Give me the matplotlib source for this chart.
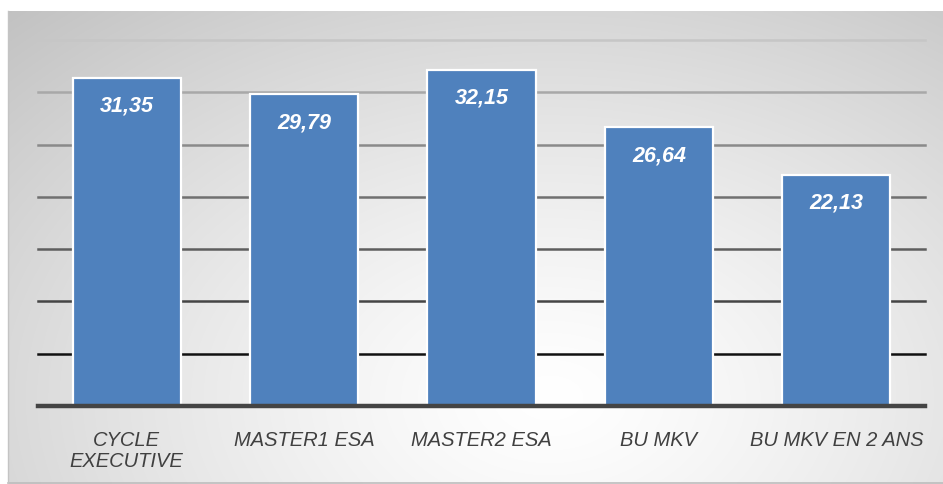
import matplotlib
matplotlib.use("Agg")
import matplotlib.pyplot as plt
import numpy as np

categories = ["CYCLE\nEXECUTIVE", "MASTER1 ESA", "MASTER2 ESA", "BU MKV", "BU MKV EN 2 ANS"]
values = [31.35, 29.79, 32.15, 26.64, 22.13]
value_labels = ["31,35", "29,79", "32,15", "26,64", "22,13"]
grid_levels = [5, 10, 15, 20, 25, 30, 35]

W, H = 943, 484
fig = plt.figure(figsize=(W / 100, H / 100), dpi=100)
fig.patch.set_facecolor("white")

# background panel with radial gradient
bx0, by0, bx1, by1 = 8, 11, 943, 484
bg = fig.add_axes([bx0 / W, 1 - by1 / H, (bx1 - bx0) / W, (by1 - by0) / H])
ny, nx = 200, 400
yy, xx = np.mgrid[0:1:ny * 1j, 0:1:nx * 1j]
cx, cy = 0.58, 0.82
d = np.sqrt(((xx - cx) / 0.75) ** 2 + ((yy - cy) / 1.0) ** 2)
d = np.clip(d / d.max(), 0, 1)
val = 1.0 - 0.24 * d ** 1.3
img = np.dstack([val, val, val])
bg.imshow(img, extent=[0, 1, 1, 0], aspect="auto", interpolation="bilinear")
bg.set_xlim(0, 1)
bg.set_ylim(1, 0)
bg.axis("off")
bg.plot([0, 1], [0.002, 0.002], color="#bdbdbd", lw=1.2, transform=bg.transAxes, clip_on=False)
bg.plot([0.0005, 0.0005], [0, 1], color="#c4c4c4", lw=1.0, transform=bg.transAxes, clip_on=False)

# main axes
left, right, top, bottom = 38, 925, 40, 406
ax = fig.add_axes([left / W, 1 - bottom / H, (right - left) / W, (bottom - top) / H])
ax.set_facecolor("none")
ax.set_xlim(-0.5, len(categories) - 0.5)
ax.set_ylim(0, 35)

grid_colors = ["#111111", "#454545", "#5e5e5e", "#707070", "#8a8a8a", "#a8a8a8", "#c6c6c6"]
for lvl, c in zip(grid_levels, grid_colors):
    ax.axhline(lvl, color=c, lw=1.8, zorder=1, clip_on=False)
ax.axhline(0, color="#444444", lw=3.2, zorder=4, clip_on=False)

x = np.arange(len(categories))
bars = ax.bar(x, values, width=0.61, color="#4f81bd", edgecolor="white", linewidth=1.6, zorder=3)

for xi, v, lab in zip(x, values, value_labels):
    ax.text(xi, v - 2.7, lab, ha="center", va="center", color="white",
            fontsize=15.5, fontweight="bold", fontstyle="italic",
            family=["Liberation Sans Narrow", "Liberation Sans", "DejaVu Sans"], zorder=5)

for s in ax.spines.values():
    s.set_visible(False)
ax.set_yticks([])
ax.set_xticks(x)
ax.set_xticklabels(categories, fontsize=14.5, fontstyle="italic", color="#404040",
                   family=["Liberation Sans Narrow", "Liberation Sans", "DejaVu Sans"],
                   linespacing=1.15, va="top")
ax.tick_params(axis="x", length=0, pad=18)

fig.savefig("out.png", dpi=100)
